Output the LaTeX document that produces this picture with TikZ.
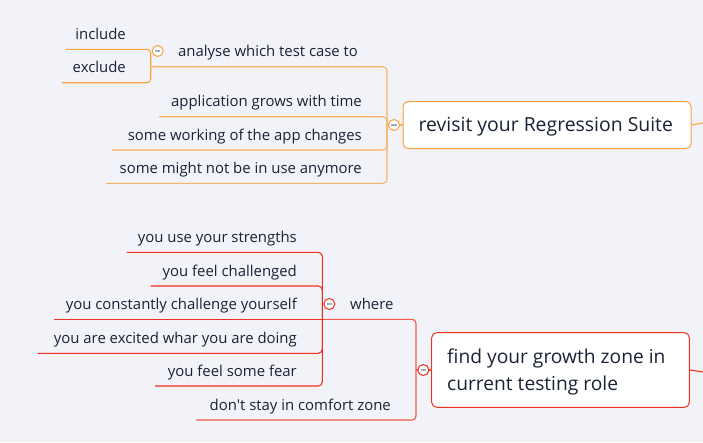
\documentclass[tikz,border=0pt]{standalone}
\usepackage{fontspec}
\setmainfont{Open Sans}[Ligatures=TeXOff]
\definecolor{bg}{HTML}{F2F3F8}
\definecolor{ink}{HTML}{1A2236}
\definecolor{org}{HTML}{F8A23C}
\definecolor{orgl}{HTML}{F9B264}
\definecolor{rd}{HTML}{F0301F}
\definecolor{rdl}{HTML}{F5584A}
\definecolor{minus}{HTML}{A3ABC3}
\tikzset{
  leaf/.style={anchor=base east, inner sep=0pt, text=ink, font=\fontsize{14.9}{17}\selectfont},
  leftleaf/.style={anchor=base west, inner sep=0pt, text=ink, font=\fontsize{14.9}{17}\selectfont},
  tog/.style={circle, draw=#1, fill=white, line width=1pt, minimum size=11pt, inner sep=0pt},
  mainbox/.style={draw=#1, fill=white, rounded corners=5pt, line width=1pt, inner sep=0pt},
  maintext/.style={anchor=base west, inner sep=0pt, text=ink, align=left},
  link/.style={draw=#1, line width=1.1pt, rounded corners=4pt},
}
\begin{document}
\begin{tikzpicture}[x=1pt, y=-1pt]
\fill[bg] (0,0) rectangle (703,442);
\useasboundingbox (0,0) rectangle (703,442);

% ---------- top branch ----------
\node[mainbox=org, minimum width=288pt, minimum height=47pt] (R) at (547,125) {};
\node[maintext, font=\fontsize{19.4}{23}\selectfont] (Rt) at (418.5,131.7) {revisit your Regression Suite};
\coordinate (Rout) at (703,123);
\draw[org, line width=1.1pt] (R.east) -- (Rout);

\coordinate (Rm) at (387,125);
\coordinate (Am) at (150.7,66.7);
\coordinate (aA) at (65.7,49.3);
\coordinate (aB) at (62,82.7);
\coordinate (pApp) at (159,116.7);
\coordinate (pWork) at (112,150);
\coordinate (pMight) at (106,183.3);

\draw[link=orgl] (Am) -| (Rm);
\draw[link=orgl] (pApp) -| (Rm);
\draw[link=orgl] (pWork) -| (Rm);
\draw[link=orgl] (pMight) -| (Rm);
\draw[link=org] (aA) -| (Am);
\draw[link=org] (aB) -| (Am);
\draw[orgl, line width=1.1pt] (Rm) -- (R.west);

\node[tog=org] (cR) at (394,125) {};
\node[tog=org] (cA) at (157.7,51) {};

\node[leftleaf] (tA) at (178,56) {analyse which test case to};
\node[leaf] (tInc) at (126,39.3) {include};
\node[leaf] (tExc) at (126,72.7) {exclude};
\node[leaf] (tApp) at (362,106.7) {application grows with time};
\node[leaf] (tWork) at (362,140) {some working of the app changes};
\node[leaf] (tMight) at (362,173.3) {some might not be in use anymore};

% ---------- bottom branch ----------
\node[mainbox=rd, minimum width=257.6pt, minimum height=74.6pt] (G) at (560.5,370) {};
\node[maintext, font=\fontsize{19.2}{27.3}\selectfont] (Gt) at (447,390.6) {find your growth zone in\\current testing role};
\coordinate (Gout) at (703,372);
\draw[rd, line width=1.1pt] (G.east) -- (Gout);

\coordinate (Gm) at (416,370);
\coordinate (Wm) at (322.3,319.3);
\coordinate (pStay) at (196,420);
\coordinate (pStr) at (126.7,252.3);
\coordinate (pChal) at (150.7,286);
\coordinate (pConst) at (54,319.3);
\coordinate (pExc) at (37.7,353.3);
\coordinate (pFear) at (155,386);

\draw[link=rdl] (Wm) -| (Gm);
\draw[link=rdl] (pStay) -| (Gm);
\draw[rdl, line width=1.1pt] (Gm) -- (G.west);
\draw[link=rd] (pStr) -| (Wm);
\draw[link=rd] (pChal) -| (Wm);
\draw[link=rd] (pConst) -- (Wm);
\draw[link=rd] (pExc) -| (Wm);
\draw[link=rd] (pFear) -| (Wm);

\node[tog=rd] (cG) at (423.3,370) {};
\node[tog=rd] (cW) at (329.3,304) {};

\node[leftleaf] (tWhere) at (350,309.3) {where};
\node[leaf] (tStay) at (391,410) {don't stay in comfort zone};
\node[leaf] (tStr) at (297,242.3) {you use your strengths};
\node[leaf] (tChal) at (297,276) {you feel challenged};
\node[leaf] (tConst) at (297,309.3) {you constantly challenge yourself};
\node[leaf] (tExcd) at (297,343.3) {you are excited whar you are doing};
\node[leaf] (tFear) at (297,376) {you feel some fear};

% minus signs in toggles
\foreach \c in {cR,cA,cG,cW}
  \draw[minus, line width=1.6pt] ([xshift=-2.6pt]\c.center) -- ([xshift=2.6pt]\c.center);
\end{tikzpicture}
\end{document}
